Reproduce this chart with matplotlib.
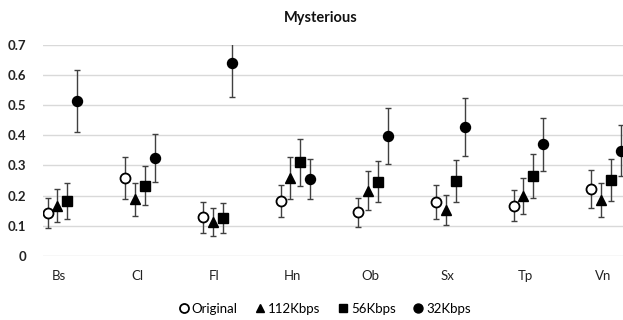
import matplotlib
matplotlib.use("Agg")
import matplotlib.pyplot as plt
import numpy as np

plt.rcParams['font.family'] = ['Lato', 'DejaVu Sans']

categories = ["Bs", "Cl", "Fl", "Hn", "Ob", "Sx", "Tp", "Vn"]
series_names = ["Original", "112Kbps", "56Kbps", "32Kbps"]

original = [0.141, 0.259, 0.128, 0.182, 0.144, 0.179, 0.166, 0.221]
original_err = [0.050, 0.069, 0.052, 0.054, 0.049, 0.056, 0.052, 0.064]
kbps112 = [0.166, 0.188, 0.113, 0.257, 0.216, 0.152, 0.199, 0.185]
kbps112_err = [0.055, 0.055, 0.047, 0.070, 0.064, 0.050, 0.060, 0.055]
kbps56 = [0.183, 0.233, 0.124, 0.310, 0.246, 0.248, 0.265, 0.251]
kbps56_err = [0.060, 0.064, 0.050, 0.077, 0.069, 0.070, 0.072, 0.069]
kbps32 = [0.514, 0.324, 0.641, 0.254, 0.398, 0.427, 0.371, 0.349]
kbps32_err = [0.104, 0.080, 0.113, 0.067, 0.092, 0.096, 0.088, 0.084]

values = [original, kbps112, kbps56, kbps32]
errors = [original_err, kbps112_err, kbps56_err, kbps32_err]

# marker style per series
styles = [
    dict(marker='o', mfc='white', mec='black', mew=1.3, ms=7.2),
    dict(marker='^', mfc='black', mec='black', ms=6.5),
    dict(marker='s', mfc='black', mec='black', ms=6.5),
    dict(marker='o', mfc='black', mec='black', ms=7.2),
]
offsets = [-0.19, -0.065, 0.065, 0.19]

fig = plt.figure(figsize=(6.23, 3.2), dpi=100)
ax = fig.add_axes([0.069, 0.2009, 0.931, 0.6585])

x = np.arange(len(categories))
for vals, errs, st, off, name in zip(values, errors, styles, offsets, series_names):
    ax.errorbar(x + off, vals, yerr=errs, fmt='none', ecolor='#404040',
                elinewidth=1.0, capsize=2.5, capthick=1.0, zorder=2)
    ax.plot(x + off, vals, linestyle='none', label=name, zorder=3, **st)

ax.set_xlim(-0.25, 7.22)
ax.set_ylim(0, 0.7)
ax.set_yticks(np.arange(0, 0.71, 0.1))
ax.set_yticklabels(["0", "0.1", "0.2", "0.3", "0.4", "0.5", "0.6", "0.7"])
ax.set_xticks(x - 0.04)
ax.set_xticklabels(categories)
ax.yaxis.grid(True, color='#d9d9d9', linewidth=1.0)
ax.set_axisbelow(True)
for s in ax.spines.values():
    s.set_visible(False)
ax.tick_params(axis='both', length=0, labelsize=9.5, colors='#222222')
ax.tick_params(axis='y', pad=12)
ax.tick_params(axis='x', pad=10)
for lbl in ax.get_yticklabels():
    lbl.set_fontweight('bold')

fig.text(0.515, 0.945, "Mysterious", ha='center', va='center',
         fontsize=10.5, fontweight='bold', color='#111111')

fig.legend(loc='center', bbox_to_anchor=(0.52, 0.035), ncol=4, frameon=False,
           fontsize=9.5, handletextpad=0.1, columnspacing=1.2,
           handlelength=1.0, markerscale=0.9)

fig.savefig("out.png", dpi=100)
